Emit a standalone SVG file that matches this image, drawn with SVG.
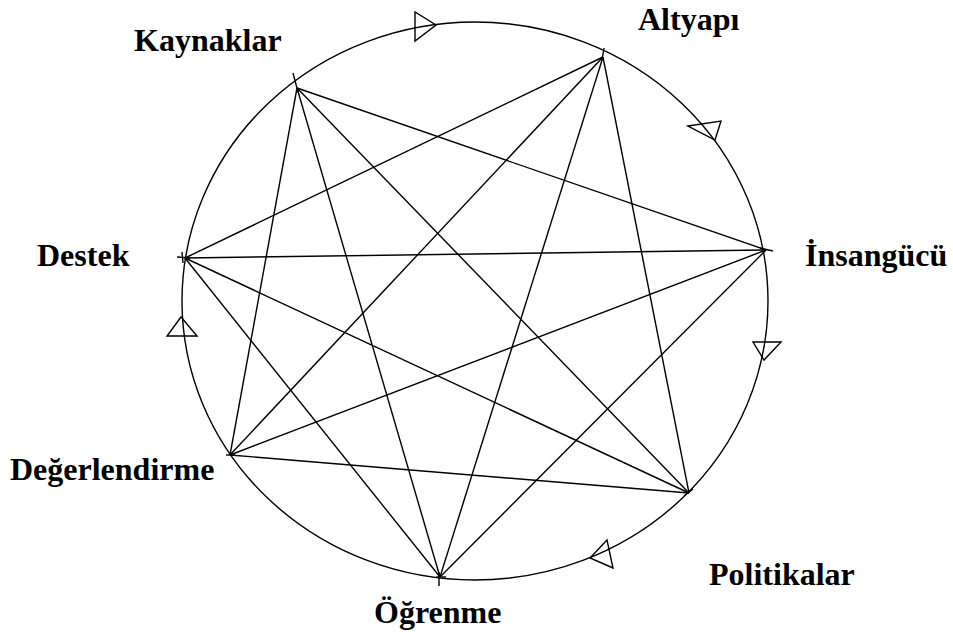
<svg xmlns="http://www.w3.org/2000/svg" width="953" height="641" viewBox="0 0 953 641">
<style>
.ln{stroke:#000;stroke-width:1.4;fill:none}
.arc{stroke:#000;stroke-width:1.4;fill:none}
.tri{stroke:#000;stroke-width:1.4;fill:none;stroke-linejoin:miter}
.lbl{font-family:"Liberation Serif","Times New Roman",serif;font-weight:bold;font-size:32px;fill:#000}
</style>
<rect width="953" height="641" fill="#fff"/>
<g id="cycle">
<ellipse class="arc" cx="475" cy="301" rx="293" ry="279"/>
<polygon class="tri" points="415,12 415,41 436,25"/>
<polygon class="tri" points="688,126 721,121 715,140"/>
<polygon class="tri" points="753,342 781,342 764,360"/>
<polygon class="tri" points="607,540 590,558 613,568"/>
<polygon class="tri" points="181,317 167,336 197,336"/>
</g>
<g id="connectors">
<line class="ln" x1="297" y1="88" x2="766" y2="250"/>
<line class="ln" x1="297" y1="88" x2="689" y2="493"/>
<line class="ln" x1="297" y1="88" x2="440" y2="577"/>
<line class="ln" x1="297" y1="88" x2="230" y2="455"/>
<line class="ln" x1="603" y1="57" x2="185" y2="258"/>
<line class="ln" x1="603" y1="57" x2="230" y2="455"/>
<line class="ln" x1="603" y1="57" x2="440" y2="577"/>
<line class="ln" x1="603" y1="57" x2="689" y2="493"/>
<line class="ln" x1="766" y1="250" x2="185" y2="258"/>
<line class="ln" x1="766" y1="250" x2="230" y2="455"/>
<line class="ln" x1="766" y1="250" x2="440" y2="577"/>
<line class="ln" x1="185" y1="258" x2="689" y2="493"/>
<line class="ln" x1="185" y1="258" x2="440" y2="577"/>
<line class="ln" x1="230" y1="455" x2="689" y2="493"/>
</g>
<g id="n-kaynaklar">
<line class="ln" x1="293" y1="73" x2="298" y2="92"/>
<text class="lbl" x="134" y="51">Kaynaklar</text>
</g>
<g id="n-altyapi">
<line class="ln" x1="604" y1="48" x2="602" y2="60"/>
<text class="lbl" x="638" y="30">Altyapı</text>
</g>
<g id="n-insangucu">
<line class="ln" x1="760" y1="248" x2="773" y2="251"/>
<text class="lbl" x="805" y="266">İnsangücü</text>
</g>
<g id="n-politikalar">
<line class="ln" x1="684" y1="496" x2="693" y2="489"/>
<text class="lbl" x="709" y="585">Politikalar</text>
</g>
<g id="n-ogrenme">
<line class="ln" x1="436" y1="577" x2="446" y2="577"/>
<line class="ln" x1="439" y1="572" x2="439" y2="586"/>
<text class="lbl" x="374" y="623">Öğrenme</text>
</g>
<g id="n-degerlendirme">
<line class="ln" x1="226" y1="455" x2="235" y2="455"/>
<text class="lbl" x="10" y="480">Değerlendirme</text>
</g>
<g id="n-destek">
<line class="ln" x1="177" y1="257" x2="190" y2="258"/>
<line class="ln" x1="182" y1="252" x2="183" y2="263"/>
<text class="lbl" x="37" y="266">Destek</text>
</g>
</svg>
